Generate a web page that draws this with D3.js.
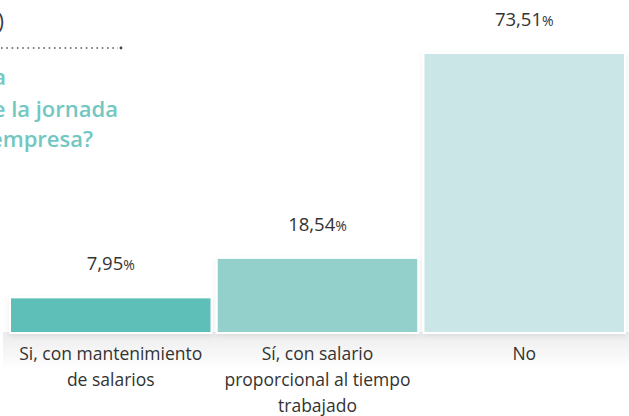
<!DOCTYPE html>
<html>
<head>
<meta charset="utf-8">
<script src="https://cdn.jsdelivr.net/npm/d3@7"></script>
<style>
  html, body { margin: 0; padding: 0; background: #fff; }
  svg { display: block; }
</style>
</head>
<body>
<svg id="chart" width="629" height="416"></svg>
<script>
// ---- data ----
const categories = ["c1", "c2", "c3"];
const categoryLabels = [
  ["Si, con mantenimiento", "de salarios"],
  ["Sí, con salario", "proporcional al tiempo", "trabajado"],
  ["No"]
];
const values = [7.95, 18.54, 73.51];
const valueLabels = ["7,95", "18,54", "73,51"];
const barColors = ["#5ebfb9", "#93d0cc", "#cbe6e6"];
const titleLines = ["¿Se ha producido alguna", "reducción de la jornada", "en su empresa?"];

// ---- chart ----
const svg = d3.select("#chart");
const W = 629, H = 416;
const baseY = 332;

const x = d3.scaleBand().domain(categories).range([11, 624]).paddingInner(0.035).paddingOuter(0);
const y = d3.scaleLinear().domain([0, 73.51]).range([328, 54]);

const defs = svg.append("defs");
const grad = defs.append("linearGradient").attr("id", "floor").attr("x1", 0).attr("y1", 0).attr("x2", 0).attr("y2", 1);
grad.append("stop").attr("offset", "0%").attr("stop-color", "#ececec");
grad.append("stop").attr("offset", "100%").attr("stop-color", "#ffffff");
const flt = defs.append("filter").attr("id", "sh").attr("x", "-10%").attr("y", "-10%").attr("width", "120%").attr("height", "130%");
flt.append("feDropShadow").attr("dx", 0).attr("dy", 2).attr("stdDeviation", 2.5)
   .attr("flood-color", "#000").attr("flood-opacity", 0.08);

// floor shadow
svg.append("rect").attr("x", 3).attr("y", baseY).attr("width", W - 3).attr("height", 38)
   .attr("fill", "url(#floor)");

// top-left fragments
svg.append("text").attr("x", 4).attr("y", 29).attr("text-anchor", "end")
   .attr("font-family", "'Open Sans', sans-serif").attr("font-size", 21).attr("fill", "#3a3a3a").text("(2020)");
svg.append("line").attr("x1", 1).attr("x2", 118).attr("y1", 48).attr("y2", 48)
   .attr("stroke", "#555").attr("stroke-width", 1.6).attr("stroke-dasharray", "1.6,3.7");
svg.append("circle").attr("cx", 121).attr("cy", 48).attr("r", 1.4).attr("fill", "#444");

// title fragments (cut by the left edge)
const titleEnds = [6, 118, 93];
const titleBase = [85, 117, 147];
titleLines.forEach((t, i) => {
  svg.append("text").attr("x", titleEnds[i]).attr("y", titleBase[i]).attr("text-anchor", "end")
     .attr("font-family", "'Open Sans', 'Noto Sans', sans-serif").attr("font-weight", 600)
     .attr("font-size", 22).attr("fill", "#72c7c2").text(t);
});

// bar frames (white with soft shadow)
const g = svg.append("g");
g.selectAll("rect.frame").data(values).join("rect").attr("class", "frame")
  .attr("x", (d, i) => x(categories[i]) - 2)
  .attr("y", d => y(d) - 2)
  .attr("width", x.bandwidth() + 4)
  .attr("height", d => baseY - y(d) + 4)
  .attr("fill", "#fff").attr("filter", "url(#sh)");

g.selectAll("rect.bar").data(values).join("rect").attr("class", "bar")
  .attr("x", (d, i) => x(categories[i]))
  .attr("y", d => y(d))
  .attr("width", x.bandwidth())
  .attr("height", d => baseY - y(d))
  .attr("fill", (d, i) => barColors[i]);

// value labels
values.forEach((v, i) => {
  const t = svg.append("text")
    .attr("x", x(categories[i]) + x.bandwidth() / 2)
    .attr("y", y(v) - 28)
    .attr("text-anchor", "middle")
    .attr("font-family", "'Open Sans', 'Noto Sans', sans-serif")
    .attr("font-size", 18.5).attr("fill", "#333");
  t.append("tspan").text(valueLabels[i]);
  t.append("tspan").attr("font-size", 14).text("%");
});

// category labels
categoryLabels.forEach((lines, i) => {
  lines.forEach((l, j) => {
    svg.append("text")
      .attr("x", x(categories[i]) + x.bandwidth() / 2)
      .attr("y", 360 + j * 26)
      .attr("text-anchor", "middle")
      .attr("font-family", "'Open Sans', 'Noto Sans', sans-serif")
      .attr("font-size", 17.5).attr("fill", "#333")
      .text(l);
  });
});
</script>
</body>
</html>
